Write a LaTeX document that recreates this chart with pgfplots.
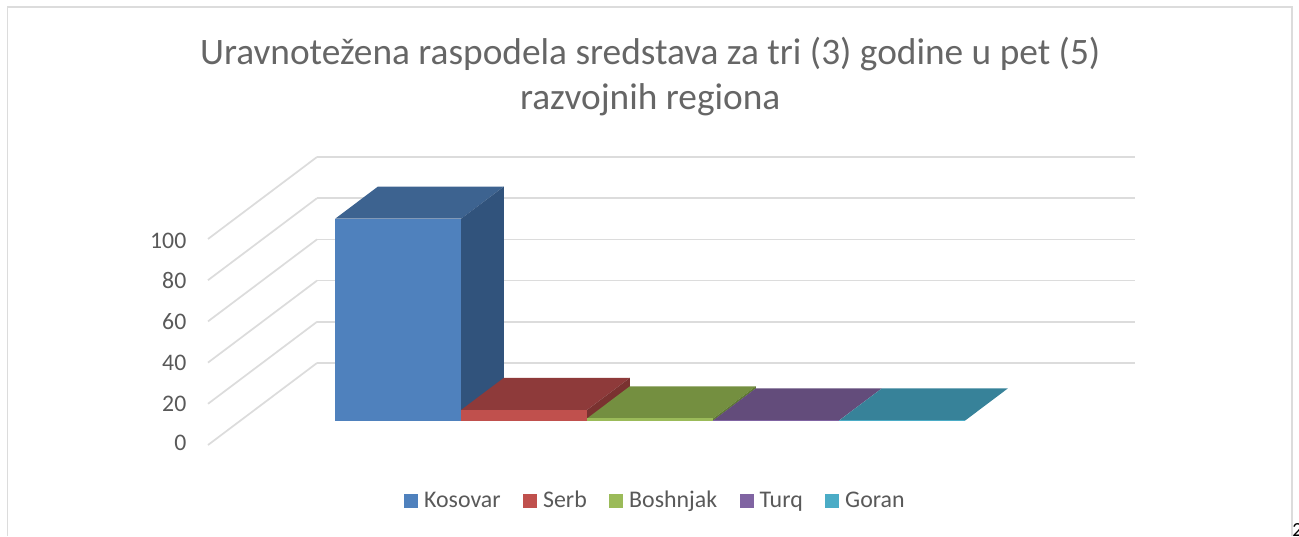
\documentclass[border=0pt]{standalone}
\usepackage{fontspec}
\setmainfont{Carlito}
\usepackage{pgfplots}
\pgfplotsset{compat=1.18}
\definecolor{txt}{HTML}{595959}
\definecolor{ttl}{HTML}{666666}
\definecolor{gridc}{HTML}{DCDCDC}
\definecolor{aF}{HTML}{4F81BD}\definecolor{aT}{HTML}{3D6390}\definecolor{aS}{HTML}{31537C}
\definecolor{bF}{HTML}{C0504D}\definecolor{bT}{HTML}{8E3A3A}\definecolor{bS}{HTML}{7A3230}
\definecolor{cF}{HTML}{9BBB59}\definecolor{cT}{HTML}{748F40}\definecolor{cS}{HTML}{5F7A32}
\definecolor{dF}{HTML}{8064A2}\definecolor{dT}{HTML}{634C7B}\definecolor{dS}{HTML}{503D66}
\definecolor{eF}{HTML}{4BACC6}\definecolor{eT}{HTML}{378299}\definecolor{eS}{HTML}{2D6B7E}
\begin{document}
\begin{tikzpicture}
\useasboundingbox (0pt,0pt) rectangle (974.25pt,402pt);
\draw[gridc,line width=1.2pt] (5.6pt,0pt) -- (5.6pt,396.75pt) -- (969pt,396.75pt) -- (969pt,0pt);
\begin{axis}[
  at={(156pt,68.25pt)}, anchor=origin,
  x={(94.5pt,0pt)}, y={(81.75pt,61.5pt)}, z={(0pt,1.545pt)},
  xmin=0, xmax=6.492, ymin=0, ymax=1, zmin=0, zmax=100,
  xtick=\empty, ytick=\empty, ztick={0,20,...,100},
  zmajorgrids, grid style={gridc,line width=1.3pt},
  axis line style={draw=none}, major tick length=0pt,
  zticklabel pos=left,
  /pgf/number format/assume math mode=true,
  z tick label style={text=txt,font=\fontsize{17.8pt}{20pt}\selectfont,xshift=-12.75pt,yshift=4pt},
  clip=false,
  title={Uravnotežena raspodela sredstava za tri (3) godine u pet (5)\\razvojnih regiona},
  title style={at={(0.477,1.252)},anchor=center,align=center,text=ttl,font=\fontsize{28pt}{33.75pt}\selectfont},
  legend columns=-1,
  legend style={at={(0.483,-0.193)},anchor=center,draw=none,fill=none,text=txt,
    font=\fontsize{17.9pt}{19pt}\selectfont,
    /tikz/every even column/.append style={column sep=14.8pt}},
  legend image code/.code={\fill[#1] (0pt,-5.2pt) rectangle (10.5pt,5.2pt);\path (0pt,0pt) (13pt,0pt);},
]
% Kosovar
\addplot3[fill=aT,draw=none,forget plot] coordinates {(0.752,0.298,98) (1.752,0.298,98) (1.752,0.688,98) (0.752,0.688,98)};
\addplot3[fill=aS,draw=none,forget plot] coordinates {(1.752,0.298,0) (1.752,0.688,0) (1.752,0.688,98) (1.752,0.298,98)};
\addplot3[fill=aF,draw=none] coordinates {(0.752,0.298,0) (1.752,0.298,0) (1.752,0.298,98) (0.752,0.298,98)};
\addlegendentry{Kosovar}
% Serb
\addplot3[fill=bT,draw=none,forget plot] coordinates {(1.752,0.298,5.2) (2.752,0.298,5.2) (2.752,0.688,5.2) (1.752,0.688,5.2)};
\addplot3[fill=bS,draw=none,forget plot] coordinates {(2.752,0.298,0) (2.752,0.688,0) (2.752,0.688,5.2) (2.752,0.298,5.2)};
\addplot3[fill=bF,draw=none] coordinates {(1.752,0.298,0) (2.752,0.298,0) (2.752,0.298,5.2) (1.752,0.298,5.2)};
\addlegendentry{Serb}
% Boshnjak
\addplot3[fill=cT,draw=none,forget plot] coordinates {(2.752,0.298,1.1) (3.752,0.298,1.1) (3.752,0.688,1.1) (2.752,0.688,1.1)};
\addplot3[fill=cS,draw=none,forget plot] coordinates {(3.752,0.298,0) (3.752,0.688,0) (3.752,0.688,1.1) (3.752,0.298,1.1)};
\addplot3[fill=cF,draw=none] coordinates {(2.752,0.298,0) (3.752,0.298,0) (3.752,0.298,1.1) (2.752,0.298,1.1)};
\addlegendentry{Boshnjak}
% Turq
\addplot3[fill=dT,draw=none,forget plot] coordinates {(3.752,0.298,0.1) (4.752,0.298,0.1) (4.752,0.688,0.1) (3.752,0.688,0.1)};
\addplot3[fill=dF,draw=none] coordinates {(3.752,0.298,0) (4.752,0.298,0) (4.752,0.298,0.1) (3.752,0.298,0.1)};
\addlegendentry{Turq}
% Goran
\addplot3[fill=eT,draw=none,forget plot] coordinates {(4.752,0.298,0.05) (5.752,0.298,0.05) (5.752,0.688,0.05) (4.752,0.688,0.05)};
\addplot3[fill=eF,draw=none] coordinates {(4.752,0.298,0) (5.752,0.298,0) (5.752,0.298,0.05) (4.752,0.298,0.05)};
\addlegendentry{Goran}
\end{axis}
\node[anchor=west,inner sep=0pt,font=\fontsize{15pt}{15pt}\selectfont\rmfamily] at (969pt,4.5pt) {2};
\end{tikzpicture}
\end{document}
